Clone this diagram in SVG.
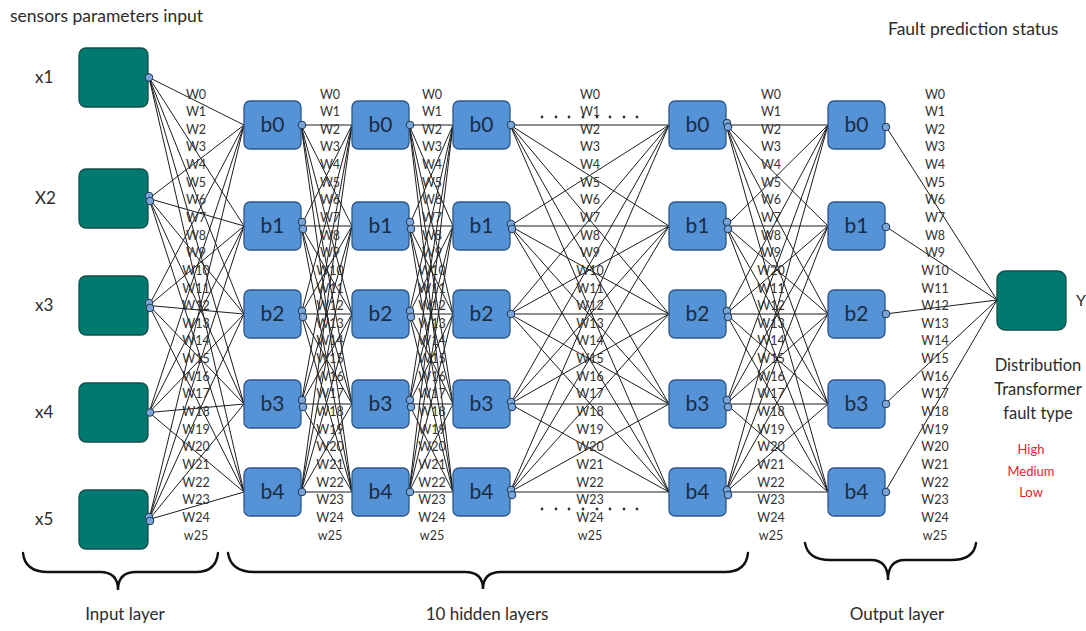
<svg xmlns="http://www.w3.org/2000/svg" width="1086" height="631" viewBox="0 0 1086 631">
  <style>
    .txt { font-family: Lato, "Liberation Sans", sans-serif; fill: #2b2b2b; }
    .in { fill: #007a70; stroke: #124d48; stroke-width: 1.3; }
    .hid { fill: #5592d6; stroke: #2c5788; stroke-width: 1.3; }
    .lbl { font-family: Lato, "Liberation Sans", sans-serif; font-size: 21px; fill: #1b2d45; text-anchor: middle; }
    .w { font-family: Lato, "Liberation Sans", sans-serif; font-size: 12.5px; fill: #333; text-anchor: middle; }
    .pt { fill: #7aa6da; stroke: #1e3552; stroke-width: 1; }
    .edge { fill: none; stroke: #1c1c1c; stroke-width: 1; }
    .brace { fill: none; stroke: #111; stroke-width: 2.4; stroke-linecap: round; }
    .dot { fill: #333; }
  </style>

  <!-- titles -->
  <text class="txt" x="10" y="22" font-size="17.5">sensors parameters input</text>
  <text class="txt" x="888" y="35" font-size="17.5">Fault prediction status</text>

  <!-- connectors -->
  <g id="connectors">
    <!-- input layer to hidden column 1 -->
    <path class="edge" d="M149,77.5L244,125M149,77.5L244,226M149,77.5L244,314M149,77.5L244,404M149,77.5L244,492"/>
    <path class="edge" d="M149,198.5L244,125M149,198.5L244,226M149,198.5L244,314M149,198.5L244,404M149,198.5L244,492"/>
    <path class="edge" d="M149,305.5L244,125M149,305.5L244,226M149,305.5L244,314M149,305.5L244,404M149,305.5L244,492"/>
    <path class="edge" d="M149,412.5L244,125M149,412.5L244,226M149,412.5L244,314M149,412.5L244,404M149,412.5L244,492"/>
    <path class="edge" d="M149,519.5L244,125M149,519.5L244,226M149,519.5L244,314M149,519.5L244,404M149,519.5L244,492"/>
    <!-- hidden column 1 to column 2 -->
    <path class="edge" d="M301,125L352,125M301,125L352,226M301,125L352,314M301,125L352,404M301,125L352,492"/>
    <path class="edge" d="M301,226L352,125M301,226L352,226M301,226L352,314M301,226L352,404M301,226L352,492"/>
    <path class="edge" d="M301,314L352,125M301,314L352,226M301,314L352,314M301,314L352,404M301,314L352,492"/>
    <path class="edge" d="M301,404L352,125M301,404L352,226M301,404L352,314M301,404L352,404M301,404L352,492"/>
    <path class="edge" d="M301,492L352,125M301,492L352,226M301,492L352,314M301,492L352,404M301,492L352,492"/>
    <!-- hidden column 2 to column 3 -->
    <path class="edge" d="M409,125L453,125M409,125L453,226M409,125L453,314M409,125L453,404M409,125L453,492"/>
    <path class="edge" d="M409,226L453,125M409,226L453,226M409,226L453,314M409,226L453,404M409,226L453,492"/>
    <path class="edge" d="M409,314L453,125M409,314L453,226M409,314L453,314M409,314L453,404M409,314L453,492"/>
    <path class="edge" d="M409,404L453,125M409,404L453,226M409,404L453,314M409,404L453,404M409,404L453,492"/>
    <path class="edge" d="M409,492L453,125M409,492L453,226M409,492L453,314M409,492L453,404M409,492L453,492"/>
    <!-- hidden column 3 to column 4 -->
    <path class="edge" d="M510,125L669,125M510,125L669,226M510,125L669,314M510,125L669,404M510,125L669,492"/>
    <path class="edge" d="M510,226L669,125M510,226L669,226M510,226L669,314M510,226L669,404M510,226L669,492"/>
    <path class="edge" d="M510,314L669,125M510,314L669,226M510,314L669,314M510,314L669,404M510,314L669,492"/>
    <path class="edge" d="M510,404L669,125M510,404L669,226M510,404L669,314M510,404L669,404M510,404L669,492"/>
    <path class="edge" d="M510,492L669,125M510,492L669,226M510,492L669,314M510,492L669,404M510,492L669,492"/>
    <!-- hidden column 4 to output layer -->
    <path class="edge" d="M726,125L828,125M726,125L828,226M726,125L828,314M726,125L828,404M726,125L828,492"/>
    <path class="edge" d="M726,226L828,125M726,226L828,226M726,226L828,314M726,226L828,404M726,226L828,492"/>
    <path class="edge" d="M726,314L828,125M726,314L828,226M726,314L828,314M726,314L828,404M726,314L828,492"/>
    <path class="edge" d="M726,404L828,125M726,404L828,226M726,404L828,314M726,404L828,404M726,404L828,492"/>
    <path class="edge" d="M726,492L828,125M726,492L828,226M726,492L828,314M726,492L828,404M726,492L828,492"/>
    <!-- output layer to result node -->
    <path class="edge" d="M885,125L997,300M885,226L997,300M885,314L997,300M885,404L997,300M885,492L997,300"/>
  </g>

  <!-- input nodes -->
  <g id="x1"><rect class="in" x="79" y="48" width="69" height="59" rx="7"/><circle class="pt" cx="149" cy="77.5" r="3.8"/><text class="txt" x="35" y="83" font-size="17">x1</text></g>
  <g id="x2"><rect class="in" x="79" y="169" width="69" height="59" rx="7"/><circle class="pt" cx="149" cy="196" r="3.8"/><circle class="pt" cx="150" cy="201" r="3.8"/><text class="txt" x="35" y="204" font-size="17">X2</text></g>
  <g id="x3"><rect class="in" x="79" y="276" width="69" height="59" rx="7"/><circle class="pt" cx="149" cy="303" r="3.8"/><circle class="pt" cx="150" cy="308" r="3.8"/><text class="txt" x="35" y="311" font-size="17">x3</text></g>
  <g id="x4"><rect class="in" x="79" y="383" width="69" height="59" rx="7"/><circle class="pt" cx="150" cy="412.5" r="3.8"/><text class="txt" x="35" y="418" font-size="17">x4</text></g>
  <g id="x5"><rect class="in" x="79" y="490" width="69" height="59" rx="7"/><circle class="pt" cx="149" cy="517" r="3.8"/><circle class="pt" cx="150" cy="521" r="3.8"/><text class="txt" x="35" y="525" font-size="17">x5</text></g>

  <!-- hidden column 1 -->
  <g id="h1b0"><rect class="hid" x="244" y="101" width="57" height="48" rx="6"/><text class="lbl" x="272.5" y="132">b0</text><circle class="pt" cx="302" cy="125" r="3.8"/></g>
  <g id="h1b1"><rect class="hid" x="244" y="202" width="57" height="48" rx="6"/><text class="lbl" x="272.5" y="233">b1</text><circle class="pt" cx="302" cy="222" r="3.8"/><circle class="pt" cx="303" cy="229" r="3.8"/></g>
  <g id="h1b2"><rect class="hid" x="244" y="290" width="57" height="48" rx="6"/><text class="lbl" x="272.5" y="321">b2</text><circle class="pt" cx="302" cy="311" r="3.8"/><circle class="pt" cx="303" cy="317" r="3.8"/></g>
  <g id="h1b3"><rect class="hid" x="244" y="380" width="57" height="48" rx="6"/><text class="lbl" x="272.5" y="411">b3</text><circle class="pt" cx="302" cy="400" r="3.8"/><circle class="pt" cx="303" cy="407" r="3.8"/></g>
  <g id="h1b4"><rect class="hid" x="244" y="468" width="57" height="48" rx="6"/><text class="lbl" x="272.5" y="499">b4</text><circle class="pt" cx="302" cy="492" r="3.8"/></g>

  <!-- hidden column 2 -->
  <g id="h2b0"><rect class="hid" x="352" y="101" width="57" height="48" rx="6"/><text class="lbl" x="380.5" y="132">b0</text><circle class="pt" cx="410" cy="125" r="3.8"/></g>
  <g id="h2b1"><rect class="hid" x="352" y="202" width="57" height="48" rx="6"/><text class="lbl" x="380.5" y="233">b1</text><circle class="pt" cx="410" cy="222" r="3.8"/><circle class="pt" cx="411" cy="229" r="3.8"/></g>
  <g id="h2b2"><rect class="hid" x="352" y="290" width="57" height="48" rx="6"/><text class="lbl" x="380.5" y="321">b2</text><circle class="pt" cx="410" cy="311" r="3.8"/><circle class="pt" cx="411" cy="317" r="3.8"/></g>
  <g id="h2b3"><rect class="hid" x="352" y="380" width="57" height="48" rx="6"/><text class="lbl" x="380.5" y="411">b3</text><circle class="pt" cx="410" cy="400" r="3.8"/><circle class="pt" cx="411" cy="407" r="3.8"/></g>
  <g id="h2b4"><rect class="hid" x="352" y="468" width="57" height="48" rx="6"/><text class="lbl" x="380.5" y="499">b4</text><circle class="pt" cx="410" cy="492" r="3.8"/></g>

  <!-- hidden column 3 -->
  <g id="h3b0"><rect class="hid" x="453" y="101" width="57" height="48" rx="6"/><text class="lbl" x="481.5" y="132">b0</text><circle class="pt" cx="511" cy="125" r="3.8"/></g>
  <g id="h3b1"><rect class="hid" x="453" y="202" width="57" height="48" rx="6"/><text class="lbl" x="481.5" y="233">b1</text><circle class="pt" cx="511" cy="224" r="3.8"/><circle class="pt" cx="512" cy="229" r="3.8"/></g>
  <g id="h3b2"><rect class="hid" x="453" y="290" width="57" height="48" rx="6"/><text class="lbl" x="481.5" y="321">b2</text><circle class="pt" cx="511" cy="314" r="3.8"/></g>
  <g id="h3b3"><rect class="hid" x="453" y="380" width="57" height="48" rx="6"/><text class="lbl" x="481.5" y="411">b3</text><circle class="pt" cx="511" cy="402" r="3.8"/><circle class="pt" cx="512" cy="407" r="3.8"/></g>
  <g id="h3b4"><rect class="hid" x="453" y="468" width="57" height="48" rx="6"/><text class="lbl" x="481.5" y="499">b4</text><circle class="pt" cx="511" cy="490" r="3.8"/><circle class="pt" cx="512" cy="495" r="3.8"/></g>

  <!-- hidden column 4 -->
  <g id="h4b0"><rect class="hid" x="669" y="101" width="57" height="48" rx="6"/><text class="lbl" x="697.5" y="132">b0</text><circle class="pt" cx="727" cy="123" r="3.8"/><circle class="pt" cx="728" cy="127" r="3.8"/></g>
  <g id="h4b1"><rect class="hid" x="669" y="202" width="57" height="48" rx="6"/><text class="lbl" x="697.5" y="233">b1</text><circle class="pt" cx="727" cy="222" r="3.8"/><circle class="pt" cx="728" cy="229" r="3.8"/></g>
  <g id="h4b2"><rect class="hid" x="669" y="290" width="57" height="48" rx="6"/><text class="lbl" x="697.5" y="321">b2</text><circle class="pt" cx="727" cy="311" r="3.8"/><circle class="pt" cx="728" cy="317" r="3.8"/></g>
  <g id="h4b3"><rect class="hid" x="669" y="380" width="57" height="48" rx="6"/><text class="lbl" x="697.5" y="411">b3</text><circle class="pt" cx="727" cy="400" r="3.8"/><circle class="pt" cx="728" cy="407" r="3.8"/></g>
  <g id="h4b4"><rect class="hid" x="669" y="468" width="57" height="48" rx="6"/><text class="lbl" x="697.5" y="499">b4</text><circle class="pt" cx="727" cy="490" r="3.8"/><circle class="pt" cx="728" cy="495" r="3.8"/></g>

  <!-- output layer -->
  <g id="o0"><rect class="hid" x="828" y="101" width="57" height="48" rx="6"/><text class="lbl" x="856.5" y="132">b0</text><circle class="pt" cx="886" cy="127" r="3.8"/></g>
  <g id="o1"><rect class="hid" x="828" y="202" width="57" height="48" rx="6"/><text class="lbl" x="856.5" y="233">b1</text><circle class="pt" cx="886" cy="227" r="3.8"/></g>
  <g id="o2"><rect class="hid" x="828" y="290" width="57" height="48" rx="6"/><text class="lbl" x="856.5" y="321">b2</text><circle class="pt" cx="886" cy="314" r="3.8"/></g>
  <g id="o3"><rect class="hid" x="828" y="380" width="57" height="48" rx="6"/><text class="lbl" x="856.5" y="411">b3</text><circle class="pt" cx="886" cy="404" r="3.8"/></g>
  <g id="o4"><rect class="hid" x="828" y="468" width="57" height="48" rx="6"/><text class="lbl" x="856.5" y="499">b4</text><circle class="pt" cx="886" cy="492" r="3.8"/></g>

  <!-- result node -->
  <g id="y">
    <rect class="in" x="997" y="271" width="69" height="59" rx="8"/>
    <text class="txt" x="1076" y="306" font-size="16">Y</text>
    <text class="txt" x="1038" y="371" font-size="16.5" text-anchor="middle">Distribution</text>
    <text class="txt" x="1038" y="395" font-size="16.5" text-anchor="middle">Transformer</text>
    <text class="txt" x="1038" y="419" font-size="16.5" text-anchor="middle">fault type</text>
    <text x="1031" y="454" font-family="Lato, 'Liberation Sans', sans-serif" font-size="13" fill="#e5222c" text-anchor="middle">High</text>
    <text x="1031" y="476" font-family="Lato, 'Liberation Sans', sans-serif" font-size="13" fill="#e5222c" text-anchor="middle">Medium</text>
    <text x="1031" y="497" font-family="Lato, 'Liberation Sans', sans-serif" font-size="13" fill="#e5222c" text-anchor="middle">Low</text>
  </g>

  <!-- weight labels -->
  <g id="weights">
    <text class="w" y="98.5"><tspan x="196">W0</tspan><tspan x="196" dy="17.64">W1</tspan><tspan x="196" dy="17.64">W2</tspan><tspan x="196" dy="17.64">W3</tspan><tspan x="196" dy="17.64">W4</tspan><tspan x="196" dy="17.64">W5</tspan><tspan x="196" dy="17.64">W6</tspan><tspan x="196" dy="17.64">W7</tspan><tspan x="196" dy="17.64">W8</tspan><tspan x="196" dy="17.64">W9</tspan><tspan x="196" dy="17.64">W10</tspan><tspan x="196" dy="17.64">W11</tspan><tspan x="196" dy="17.64">W12</tspan><tspan x="196" dy="17.64">W13</tspan><tspan x="196" dy="17.64">W14</tspan><tspan x="196" dy="17.64">W15</tspan><tspan x="196" dy="17.64">W16</tspan><tspan x="196" dy="17.64">W17</tspan><tspan x="196" dy="17.64">W18</tspan><tspan x="196" dy="17.64">W19</tspan><tspan x="196" dy="17.64">W20</tspan><tspan x="196" dy="17.64">W21</tspan><tspan x="196" dy="17.64">W22</tspan><tspan x="196" dy="17.64">W23</tspan><tspan x="196" dy="17.64">W24</tspan><tspan x="196" dy="17.64">w25</tspan></text>
    <text class="w" y="98.5"><tspan x="330">W0</tspan><tspan x="330" dy="17.64">W1</tspan><tspan x="330" dy="17.64">W2</tspan><tspan x="330" dy="17.64">W3</tspan><tspan x="330" dy="17.64">W4</tspan><tspan x="330" dy="17.64">W5</tspan><tspan x="330" dy="17.64">W6</tspan><tspan x="330" dy="17.64">W7</tspan><tspan x="330" dy="17.64">W8</tspan><tspan x="330" dy="17.64">W9</tspan><tspan x="330" dy="17.64">W10</tspan><tspan x="330" dy="17.64">W11</tspan><tspan x="330" dy="17.64">W12</tspan><tspan x="330" dy="17.64">W13</tspan><tspan x="330" dy="17.64">W14</tspan><tspan x="330" dy="17.64">W15</tspan><tspan x="330" dy="17.64">W16</tspan><tspan x="330" dy="17.64">W17</tspan><tspan x="330" dy="17.64">W18</tspan><tspan x="330" dy="17.64">W19</tspan><tspan x="330" dy="17.64">W20</tspan><tspan x="330" dy="17.64">W21</tspan><tspan x="330" dy="17.64">W22</tspan><tspan x="330" dy="17.64">W23</tspan><tspan x="330" dy="17.64">W24</tspan><tspan x="330" dy="17.64">w25</tspan></text>
    <text class="w" y="98.5"><tspan x="432">W0</tspan><tspan x="432" dy="17.64">W1</tspan><tspan x="432" dy="17.64">W2</tspan><tspan x="432" dy="17.64">W3</tspan><tspan x="432" dy="17.64">W4</tspan><tspan x="432" dy="17.64">W5</tspan><tspan x="432" dy="17.64">W6</tspan><tspan x="432" dy="17.64">W7</tspan><tspan x="432" dy="17.64">W8</tspan><tspan x="432" dy="17.64">W9</tspan><tspan x="432" dy="17.64">W10</tspan><tspan x="432" dy="17.64">W11</tspan><tspan x="432" dy="17.64">W12</tspan><tspan x="432" dy="17.64">W13</tspan><tspan x="432" dy="17.64">W14</tspan><tspan x="432" dy="17.64">W15</tspan><tspan x="432" dy="17.64">W16</tspan><tspan x="432" dy="17.64">W17</tspan><tspan x="432" dy="17.64">W18</tspan><tspan x="432" dy="17.64">W19</tspan><tspan x="432" dy="17.64">W20</tspan><tspan x="432" dy="17.64">W21</tspan><tspan x="432" dy="17.64">W22</tspan><tspan x="432" dy="17.64">W23</tspan><tspan x="432" dy="17.64">W24</tspan><tspan x="432" dy="17.64">w25</tspan></text>
    <text class="w" y="98.5"><tspan x="590">W0</tspan><tspan x="590" dy="17.64">W1</tspan><tspan x="590" dy="17.64">W2</tspan><tspan x="590" dy="17.64">W3</tspan><tspan x="590" dy="17.64">W4</tspan><tspan x="590" dy="17.64">W5</tspan><tspan x="590" dy="17.64">W6</tspan><tspan x="590" dy="17.64">W7</tspan><tspan x="590" dy="17.64">W8</tspan><tspan x="590" dy="17.64">W9</tspan><tspan x="590" dy="17.64">W10</tspan><tspan x="590" dy="17.64">W11</tspan><tspan x="590" dy="17.64">W12</tspan><tspan x="590" dy="17.64">W13</tspan><tspan x="590" dy="17.64">W14</tspan><tspan x="590" dy="17.64">W15</tspan><tspan x="590" dy="17.64">W16</tspan><tspan x="590" dy="17.64">W17</tspan><tspan x="590" dy="17.64">W18</tspan><tspan x="590" dy="17.64">W19</tspan><tspan x="590" dy="17.64">W20</tspan><tspan x="590" dy="17.64">W21</tspan><tspan x="590" dy="17.64">W22</tspan><tspan x="590" dy="17.64">W23</tspan><tspan x="590" dy="17.64">W24</tspan><tspan x="590" dy="17.64">w25</tspan></text>
    <text class="w" y="98.5"><tspan x="771">W0</tspan><tspan x="771" dy="17.64">W1</tspan><tspan x="771" dy="17.64">W2</tspan><tspan x="771" dy="17.64">W3</tspan><tspan x="771" dy="17.64">W4</tspan><tspan x="771" dy="17.64">W5</tspan><tspan x="771" dy="17.64">W6</tspan><tspan x="771" dy="17.64">W7</tspan><tspan x="771" dy="17.64">W8</tspan><tspan x="771" dy="17.64">W9</tspan><tspan x="771" dy="17.64">W20</tspan><tspan x="771" dy="17.64">W11</tspan><tspan x="771" dy="17.64">W12</tspan><tspan x="771" dy="17.64">W13</tspan><tspan x="771" dy="17.64">W14</tspan><tspan x="771" dy="17.64">W15</tspan><tspan x="771" dy="17.64">W16</tspan><tspan x="771" dy="17.64">W17</tspan><tspan x="771" dy="17.64">W18</tspan><tspan x="771" dy="17.64">W19</tspan><tspan x="771" dy="17.64">W20</tspan><tspan x="771" dy="17.64">W21</tspan><tspan x="771" dy="17.64">W22</tspan><tspan x="771" dy="17.64">W23</tspan><tspan x="771" dy="17.64">W24</tspan><tspan x="771" dy="17.64">w25</tspan></text>
    <text class="w" y="98.5"><tspan x="935">W0</tspan><tspan x="935" dy="17.64">W1</tspan><tspan x="935" dy="17.64">W2</tspan><tspan x="935" dy="17.64">W3</tspan><tspan x="935" dy="17.64">W4</tspan><tspan x="935" dy="17.64">W5</tspan><tspan x="935" dy="17.64">W6</tspan><tspan x="935" dy="17.64">W7</tspan><tspan x="935" dy="17.64">W8</tspan><tspan x="935" dy="17.64">W9</tspan><tspan x="935" dy="17.64">W10</tspan><tspan x="935" dy="17.64">W11</tspan><tspan x="935" dy="17.64">W12</tspan><tspan x="935" dy="17.64">W13</tspan><tspan x="935" dy="17.64">W14</tspan><tspan x="935" dy="17.64">W15</tspan><tspan x="935" dy="17.64">W16</tspan><tspan x="935" dy="17.64">W17</tspan><tspan x="935" dy="17.64">W18</tspan><tspan x="935" dy="17.64">W19</tspan><tspan x="935" dy="17.64">W20</tspan><tspan x="935" dy="17.64">W21</tspan><tspan x="935" dy="17.64">W22</tspan><tspan x="935" dy="17.64">W23</tspan><tspan x="935" dy="17.64">W24</tspan><tspan x="935" dy="17.64">w25</tspan></text>
  </g>

  <!-- ellipsis dots between hidden columns 3 and 4 -->
  <g id="ellipsis">
    <circle class="dot" cx="542" cy="117" r="1.4"/><circle class="dot" cx="556" cy="117" r="1.4"/><circle class="dot" cx="569" cy="117" r="1.4"/><circle class="dot" cx="583" cy="117" r="1.4"/><circle class="dot" cx="597" cy="117" r="1.4"/><circle class="dot" cx="610" cy="117" r="1.4"/><circle class="dot" cx="624" cy="117" r="1.4"/><circle class="dot" cx="637" cy="117" r="1.4"/>
    <circle class="dot" cx="542" cy="509" r="1.4"/><circle class="dot" cx="556" cy="509" r="1.4"/><circle class="dot" cx="569" cy="509" r="1.4"/><circle class="dot" cx="583" cy="509" r="1.4"/><circle class="dot" cx="597" cy="509" r="1.4"/><circle class="dot" cx="610" cy="509" r="1.4"/><circle class="dot" cx="624" cy="509" r="1.4"/><circle class="dot" cx="637" cy="509" r="1.4"/>
  </g>

  <!-- layer braces -->
  <g id="braces">
    <path class="brace" d="M23,553 Q25,572 48,572 L100,572 Q118,572 118,590 Q118,572 136,572 L196,572 Q216,572 218,553"/>
    <path class="brace" d="M228,553 Q231,572 254,572 L465,572 Q483,572 483,589 Q483,572 501,572 L725,572 Q746,572 748,553"/>
    <path class="brace" d="M805,543 Q808,560 830,560 L871,560 Q888,560 888,580 Q888,560 905,560 L951,560 Q974,560 976,543"/>
  </g>
  <text class="txt" x="125" y="620" font-size="17" text-anchor="middle">Input layer</text>
  <text class="txt" x="487" y="620" font-size="17" text-anchor="middle">10 hidden layers</text>
  <text class="txt" x="897" y="620" font-size="17" text-anchor="middle">Output layer</text>
</svg>
